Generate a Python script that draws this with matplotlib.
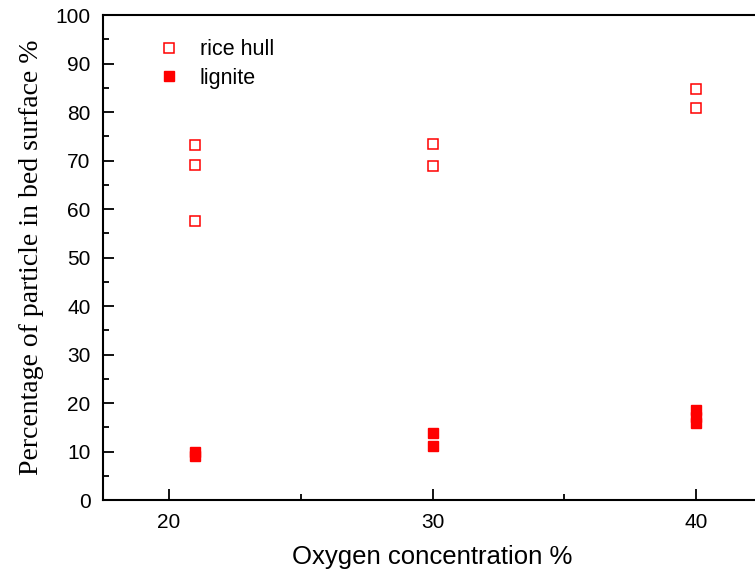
import matplotlib.pyplot as plt
from matplotlib.ticker import MultipleLocator

plt.rcParams['font.family'] = ['Liberation Sans', 'DejaVu Sans']

# Oxygen concentration (%) and share of particles found in the bed surface (%)
rice_hull_o2 = [21, 21, 21, 30, 30, 40, 40]
rice_hull_pct = [73.3, 69.1, 57.5, 73.4, 68.9, 84.7, 80.8]

lignite_o2 = [21, 21, 30, 30, 40, 40, 40]
lignite_pct = [9.9, 9.1, 13.8, 11.1, 18.5, 17.2, 15.8]

fig = plt.figure(figsize=(7.55, 5.75), dpi=100)
ax = fig.add_axes([0.1364, 0.1304, 0.873, 0.8435])

ax.plot(rice_hull_o2, rice_hull_pct, linestyle='none', marker='s', ms=7.5,
        mfc='white', mec='red', mew=1.1, label='rice hull')
ax.plot(lignite_o2, lignite_pct, linestyle='none', marker='s', ms=7.5,
        mfc='red', mec='red', mew=1.0, label='lignite')

ax.set_xlim(17.5, 42.5)
ax.set_ylim(0, 100)
ax.xaxis.set_major_locator(MultipleLocator(10))
ax.xaxis.set_minor_locator(MultipleLocator(5))
ax.yaxis.set_major_locator(MultipleLocator(10))
ax.yaxis.set_minor_locator(MultipleLocator(5))

ax.tick_params(which='both', direction='in', top=False, right=False,
               labelsize=15, width=1.3, pad=9)
ax.tick_params(which='major', length=8)
ax.tick_params(which='minor', length=4)
for s in ax.spines.values():
    s.set_linewidth(1.5)

ax.set_xlabel('Oxygen concentration %', fontsize=18.5, labelpad=10)
ax.set_ylabel('Percentage of particle in bed surface %', fontsize=20,
              family='Liberation Serif', labelpad=8)

ax.legend(loc='upper left', bbox_to_anchor=(0.055, 0.99), frameon=False,
          fontsize=15.5, handletextpad=0.9, labelspacing=0.35, handlelength=1.0,
          markerscale=0.9)

fig.savefig('out.png', dpi=100)
